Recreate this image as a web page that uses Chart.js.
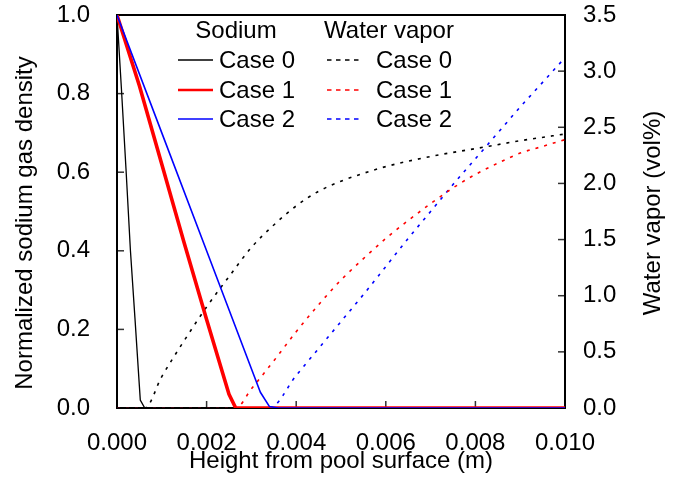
<!DOCTYPE html>
<html>
<head>
<meta charset="utf-8">
<script src="https://cdn.jsdelivr.net/npm/chart.js@4/dist/chart.umd.min.js"></script>
<style>
  html, body { margin: 0; padding: 0; background: #fff; }
  #c { display: block; }
</style>
</head>
<body>
<canvas id="c" width="680" height="500"></canvas>
<script>
// ---- Data ----
const heightsNa0 = [0, 0.0001, 0.0002, 0.0003, 0.0004, 0.0005, 0.00052, 0.00062, 0.002, 0.004, 0.006, 0.008, 0.010];
const sodiumCase0 = [1.0, 0.81, 0.61, 0.40, 0.23, 0.055, 0.02, 0, 0, 0, 0, 0, 0];

const heightsNa1 = [0, 0.0005, 0.001, 0.0015, 0.002, 0.0025, 0.00265, 0.004, 0.006, 0.008, 0.010];
const sodiumCase1 = [1.0, 0.82, 0.62, 0.42, 0.225, 0.035, 0, 0, 0, 0, 0];

const heightsNa2 = [0, 0.001, 0.002, 0.003, 0.0032, 0.0034, 0.0036, 0.006, 0.008, 0.010];
const sodiumCase2 = [1.0, 0.70, 0.40, 0.10, 0.04, 0.004, 0, 0, 0, 0];

const heightsW0 = [0, 0.00062, 0.001, 0.0015, 0.002, 0.0025, 0.003, 0.0035, 0.004, 0.0045, 0.005, 0.0055, 0.006, 0.007, 0.008, 0.009, 0.010];
const waterCase0 = [0, 0, 0.28, 0.60, 0.90, 1.17, 1.43, 1.63, 1.80, 1.93, 2.02, 2.09, 2.15, 2.24, 2.31, 2.38, 2.44];

const heightsW1 = [0, 0.00265, 0.003, 0.0035, 0.004, 0.0045, 0.005, 0.0055, 0.006, 0.0065, 0.007, 0.0075, 0.008, 0.0085, 0.009, 0.0095, 0.010];
const waterCase1 = [0, 0, 0.17, 0.42, 0.68, 0.92, 1.14, 1.33, 1.51, 1.67, 1.82, 1.96, 2.08, 2.18, 2.27, 2.33, 2.39];

const heightsW2 = [0, 0.0034, 0.004, 0.0045, 0.005, 0.0055, 0.006, 0.0065, 0.007, 0.0075, 0.008, 0.0085, 0.009, 0.0095, 0.010];
const waterCase2 = [0, 0, 0.29, 0.53, 0.77, 1.01, 1.26, 1.51, 1.75, 1.99, 2.22, 2.45, 2.68, 2.90, 3.12];

const caseLabels = ['Case 0', 'Case 1', 'Case 2'];
const groupTitles = ['Sodium', 'Water vapor'];
const xTitle = 'Height from pool surface (m)';
const yTitle = 'Normalized sodium gas density';
const y2Title = 'Water vapor (vol%)';
const xRange = [0, 0.010], xStep = 0.002;
const yRange = [0, 1.0], yStep = 0.2;
const y2Range = [0, 3.5], y2Step = 0.5;

// ---- Build ----
const pts = (xs, ys) => xs.map((x, i) => ({x, y: ys[i]}));
const FONT = "'Liberation Sans', Arial, Helvetica, sans-serif";
const FS = 24;
const colors = ['#000000', '#ff0000', '#0000ff'];
const naWidths = [1.3, 3.6, 1.6];
const DASH = [3, 6];

const naSets = [[heightsNa0, sodiumCase0], [heightsNa1, sodiumCase1], [heightsNa2, sodiumCase2]];
const wSets = [[heightsW0, waterCase0], [heightsW1, waterCase1], [heightsW2, waterCase2]];

const datasets = [];
naSets.forEach((s, i) => datasets.push({
  label: 'Sodium ' + caseLabels[i], group: 0, idx: i,
  data: pts(s[0], s[1]), yAxisID: 'y',
  borderColor: colors[i], borderWidth: naWidths[i], pointRadius: 0, tension: 0,
  order: [2, 1, 0][i]
}));
wSets.forEach((s, i) => datasets.push({
  label: 'Water vapor ' + caseLabels[i], group: 1, idx: i,
  data: pts(s[0], s[1]), yAxisID: 'y2',
  borderColor: colors[i], borderWidth: 1.6, borderDash: DASH, pointRadius: 0,
  cubicInterpolationMode: 'monotone',
  order: 3 + i
}));

const framePlugin = {
  id: 'frame',
  beforeDatasetsDraw(chart) {
    const {ctx, chartArea: a} = chart;
    ctx.save();
    ctx.strokeStyle = '#333';
    ctx.lineWidth = 1.5;
    const L = 7;
    const sx = chart.scales.x, sy = chart.scales.y, sy2 = chart.scales.y2;
    sx.ticks.forEach((t, i) => {
      const p = sx.getPixelForTick(i);
      ctx.beginPath(); ctx.moveTo(p, a.bottom); ctx.lineTo(p, a.bottom - L); ctx.stroke();
    });
    sy.ticks.forEach((t, i) => {
      const p = sy.getPixelForTick(i);
      ctx.beginPath(); ctx.moveTo(a.left, p); ctx.lineTo(a.left + L, p); ctx.stroke();
    });
    sy2.ticks.forEach((t, i) => {
      const p = sy2.getPixelForTick(i);
      ctx.beginPath(); ctx.moveTo(a.right, p); ctx.lineTo(a.right - L, p); ctx.stroke();
    });
    ctx.strokeStyle = '#000';
    ctx.lineWidth = 2;
    ctx.strokeRect(a.left, a.top, a.right - a.left, a.bottom - a.top);
    ctx.restore();
  },
  afterDraw(chart) {
    const {ctx} = chart;
    ctx.save();
    ctx.font = FS + 'px ' + FONT;
    ctx.fillStyle = '#000';
    ctx.textAlign = 'center';
    ctx.textBaseline = 'middle';
    ctx.save();
    ctx.translate(25, 223);
    ctx.rotate(-Math.PI / 2);
    ctx.fillText(yTitle, 0, 0);
    ctx.restore();
    ctx.save();
    ctx.translate(653, 213);
    ctx.rotate(-Math.PI / 2);
    ctx.fillText(y2Title, 0, 0);
    ctx.restore();

    const cols = [
      {sx0: 178, sx1: 213, tx: 219, titleX: 236},
      {sx0: 327, sx1: 359, tx: 376, titleX: 389}
    ];
    const titleY = 30, rowY = [60, 90, 119];
    chart.data.datasets.forEach(ds => {
      const c = cols[ds.group];
      const y = rowY[ds.idx];
      ctx.save();
      ctx.strokeStyle = ds.borderColor;
      ctx.lineWidth = ds.group === 0 ? Math.min(ds.borderWidth, 2.6) : 1.4;
      ctx.setLineDash(ds.group === 1 ? [4.5, 4.5] : []);
      ctx.beginPath(); ctx.moveTo(c.sx0, y); ctx.lineTo(c.sx1, y); ctx.stroke();
      ctx.restore();
      ctx.textAlign = 'left';
      ctx.fillText(caseLabels[ds.idx], c.tx, y + 1);
    });
    ctx.textAlign = 'center';
    groupTitles.forEach((t, g) => ctx.fillText(t, cols[g].titleX, titleY + 1));
    ctx.restore();
  }
};

const tickFont = {family: FONT, size: FS};
const noVPad = s => { s.paddingTop = 0; s.paddingBottom = 0; };

new Chart(document.getElementById('c'), {
  type: 'line',
  data: {datasets},
  plugins: [framePlugin],
  options: {
    responsive: false,
    animation: false,
    layout: {padding: {top: 15, left: 0, right: 0, bottom: 0}},
    plugins: {legend: {display: false}, tooltip: {enabled: false}},
    elements: {line: {borderCapStyle: 'butt', borderJoinStyle: 'round'}},
    scales: {
      x: {
        type: 'linear', position: 'bottom', min: xRange[0], max: xRange[1],
        ticks: {stepSize: xStep, callback: v => Number(v).toFixed(3), font: tickFont, color: '#000', padding: 21, maxRotation: 0, autoSkip: false},
        grid: {display: false, drawTicks: false},
        border: {display: false},
        title: {display: true, text: xTitle, font: tickFont, color: '#000', padding: {top: 0, bottom: 24}},
        afterFit: s => { s.height = 92; s.paddingLeft = 0; s.paddingRight = 0; }
      },
      y: {
        type: 'linear', position: 'left', min: yRange[0], max: yRange[1],
        ticks: {stepSize: yStep, callback: v => Number(v).toFixed(1), font: tickFont, color: '#000', padding: 27},
        grid: {display: false, drawTicks: false},
        border: {display: false},
        afterFit: s => { s.width = 117; noVPad(s); }
      },
      y2: {
        type: 'linear', position: 'right', min: y2Range[0], max: y2Range[1],
        ticks: {stepSize: y2Step, callback: v => Number(v).toFixed(1), font: tickFont, color: '#000', padding: 18},
        grid: {display: false, drawTicks: false},
        border: {display: false},
        afterFit: s => { s.width = 115; noVPad(s); }
      }
    }
  }
});
</script>
</body>
</html>
